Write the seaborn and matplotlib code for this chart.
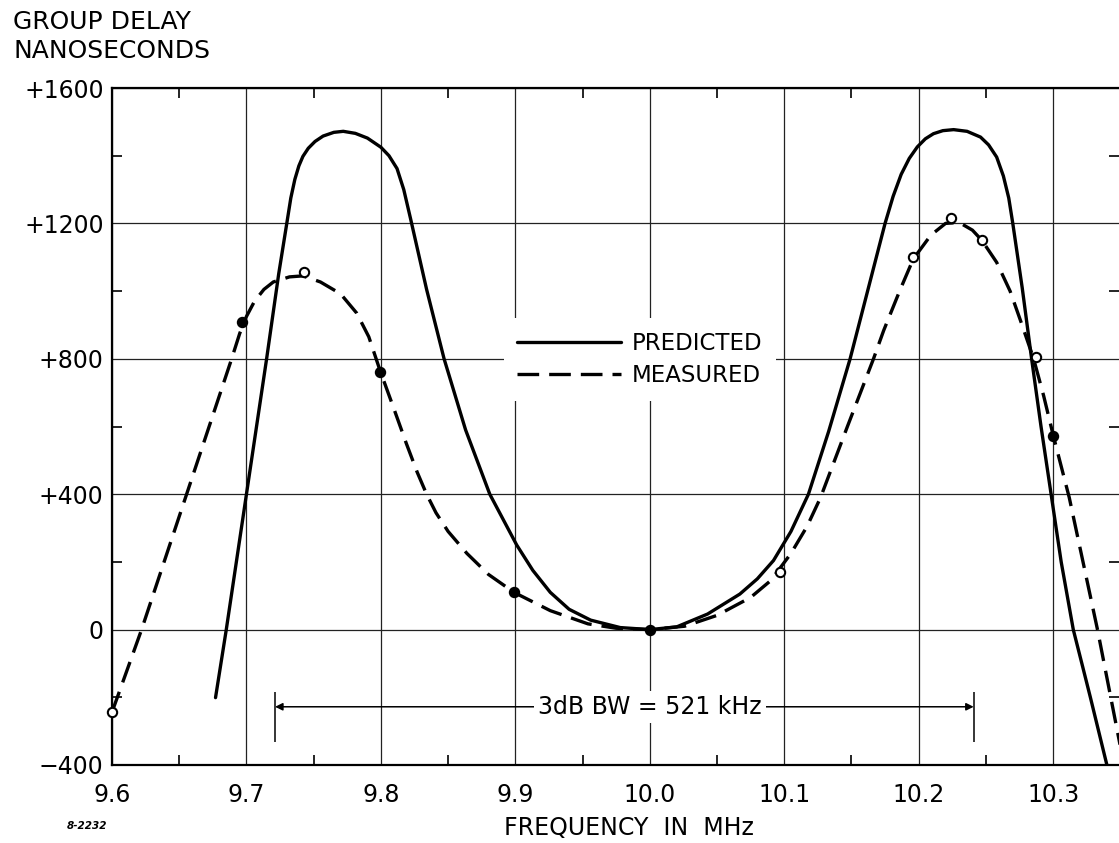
import matplotlib
matplotlib.use('Agg')
import matplotlib.pyplot as plt
import seaborn as sns
from matplotlib.ticker import MultipleLocator, FixedLocator, FixedFormatter

# --- data ---
# predicted group delay (solid curve), frequency in MHz / delay in ns
pred_freq = [9.677, 9.685, 9.700, 9.715, 9.724, 9.730, 9.733, 9.736, 9.739, 9.742,
             9.746, 9.751, 9.757, 9.765, 9.772, 9.781, 9.790, 9.800, 9.806, 9.812,
             9.817, 9.822, 9.828, 9.834, 9.847, 9.863, 9.881, 9.901, 9.913, 9.926,
             9.940, 9.956, 9.978, 10.000, 10.020, 10.043, 10.067, 10.080, 10.092,
             10.105, 10.118, 10.133, 10.149, 10.162, 10.175, 10.181, 10.187, 10.193,
             10.199, 10.205, 10.211, 10.218, 10.226, 10.236, 10.246, 10.252, 10.258,
             10.263, 10.267, 10.270, 10.277, 10.284, 10.291, 10.2985, 10.306, 10.315,
             10.322, 10.3277, 10.340]
pred_delay = [-201, 0, 400, 800, 1051, 1200, 1275, 1330, 1370, 1398,
              1422, 1442, 1458, 1469, 1472, 1466, 1452, 1425, 1400, 1362,
              1300, 1215, 1110, 1005, 800, 590, 400, 250, 175, 110,
              60, 28, 6, 0, 8, 46, 105, 150, 204,
              290, 400, 585, 800, 1000, 1200, 1280, 1345, 1392,
              1426, 1450, 1465, 1474, 1477, 1472, 1455, 1432, 1396,
              1340, 1275, 1200, 1010, 800, 600, 400, 200, 0,
              -110, -200, -400]

# measured group delay (dashed curve)
meas_freq = [9.600, 9.622, 9.6555, 9.689, 9.695, 9.700, 9.706, 9.713, 9.720, 9.732,
             9.742, 9.755, 9.770, 9.782, 9.791, 9.7994, 9.809, 9.819, 9.827, 9.834,
             9.841, 9.850, 9.864, 9.880, 9.899, 9.926, 9.954, 9.975, 10.000, 10.026,
             10.050, 10.075, 10.090, 10.105, 10.117, 10.127, 10.147, 10.1664, 10.174,
             10.186, 10.196, 10.209, 10.220, 10.230, 10.240, 10.247, 10.258, 10.268,
             10.276, 10.2855, 10.293, 10.300, 10.312, 10.333, 10.350]
meas_delay = [-244, 0, 400, 800, 875, 925, 970, 1005, 1027, 1042,
              1045, 1027, 992, 935, 865, 765, 660, 549, 465, 400,
              345, 290, 225, 163, 110, 56, 17, 4, 0, 10,
              42, 95, 145, 225, 305, 390, 600, 800, 884,
              1002, 1095, 1165, 1200, 1203, 1180, 1150, 1085, 1000,
              910, 800, 690, 575, 390, 0, -345]

# measured points: open and filled circles
open_freq = [9.600, 9.743, 10.097, 10.196, 10.224, 10.247, 10.287]
open_delay = [-244, 1056, 169, 1100, 1217, 1152, 805]
dot_freq = [9.6965, 9.7994, 9.899, 10.000, 10.300]
dot_delay = [908, 761, 110, 0, 573]

x_ticks = [9.6, 9.7, 9.8, 9.9, 10.0, 10.1, 10.2, 10.3]
x_labels = ['9.6', '9.7', '9.8', '9.9', '10.0', '10.1', '10.2', '10.3']
y_ticks = [-400, 0, 400, 800, 1200, 1600]
y_labels = ['\u2212400', '0', '+400', '+800', '+1200', '+1600']

# 3 dB bandwidth bracket
bw_left, bw_right, bw_level = 9.7213, 10.2409, -228
bw_text_freq = 10.0
bw_text = '3dB BW = 521 kHz'

# --- plot ---
sns.set_style('white')
plt.rcParams['font.family'] = ['DejaVu Sans']
plt.rcParams['text.color'] = 'black'
plt.rcParams['axes.labelcolor'] = 'black'
plt.rcParams['xtick.color'] = 'black'
plt.rcParams['ytick.color'] = 'black'

fig = plt.figure(figsize=(11.19, 8.43), dpi=100)
ax = fig.add_axes([112 / 1119, 78 / 843, 1007 / 1119, 677 / 843])

sns.lineplot(x=pred_freq, y=pred_delay, ax=ax, color='black', lw=2.4,
             sort=False, estimator=None, label='PREDICTED',
             solid_joinstyle='round', zorder=3)
sns.lineplot(x=meas_freq, y=meas_delay, ax=ax, color='black', lw=2.4,
             sort=False, estimator=None, label='MEASURED',
             linestyle=(0, (6.5, 3)), dash_capstyle='butt', zorder=3)

sns.scatterplot(x=open_freq, y=open_delay, ax=ax, marker='o', s=45,
                color='white', edgecolor='black', linewidth=1.5, zorder=4,
                legend=False, clip_on=False)
sns.scatterplot(x=dot_freq, y=dot_delay, ax=ax, marker='o', s=45,
                color='black', edgecolor='black', linewidth=1.5, zorder=4,
                legend=False, clip_on=False)

# bandwidth bracket
ax.annotate('', xy=(bw_left, bw_level), xytext=(bw_right, bw_level),
            arrowprops=dict(arrowstyle='<|-|>', lw=1.1, color='black',
                            mutation_scale=11, shrinkA=0, shrinkB=0), zorder=2)
ax.vlines([bw_left, bw_right], bw_level - 105, bw_level + 43, color='black', lw=1.1, zorder=2)
ax.text(bw_text_freq, bw_level, bw_text, ha='center', va='center',
        fontsize=17, zorder=3, bbox=dict(fc='white', ec='none', pad=3))

ax.set_xlim(9.6, 10.349)
ax.set_ylim(-400, 1600)
ax.xaxis.set_major_locator(FixedLocator(x_ticks))
ax.xaxis.set_major_formatter(FixedFormatter(x_labels))
ax.yaxis.set_major_locator(FixedLocator(y_ticks))
ax.yaxis.set_major_formatter(FixedFormatter(y_labels))
ax.xaxis.set_minor_locator(MultipleLocator(0.05))
ax.yaxis.set_minor_locator(MultipleLocator(200))

ax.grid(True, which='major', color='#222222', lw=0.9)
ax.set_axisbelow(True)
ax.tick_params(which='major', length=0, labelsize=17, labelcolor='black')
ax.tick_params(axis='x', which='major', pad=13)
ax.tick_params(axis='y', which='major', pad=6)
ax.tick_params(which='minor', direction='in', length=7, width=1.2,
               top=True, right=True, bottom=True, left=True, color='black')

for side in ['left', 'bottom', 'top']:
    ax.spines[side].set_color('black')
    ax.spines[side].set_linewidth(1.6)
ax.spines['right'].set_visible(False)

ax.set_xlabel('FREQUENCY  IN  MHz', fontsize=17)
ax.xaxis.set_label_coords(0.513, -0.076)
ax.set_ylabel('')

leg = ax.legend(loc='upper left', bbox_to_anchor=(0.389, 0.66), borderaxespad=0,
                frameon=True, facecolor='white', edgecolor='none', framealpha=1,
                fontsize=16.5, handlelength=4.5, handletextpad=0.5,
                labelspacing=0.4, borderpad=0.6)
leg.set_zorder(5)

fig.text(13 / 1119, 1 - 10 / 843, 'GROUP DELAY\nNANOSECONDS', ha='left', va='top',
         fontsize=18, linespacing=1.25)
fig.text(67 / 1119, 1 - 826 / 843, '8-2232', fontsize=7.5, style='italic',
         weight='bold', va='center')

fig.savefig('out.png', dpi=100, facecolor='white')
